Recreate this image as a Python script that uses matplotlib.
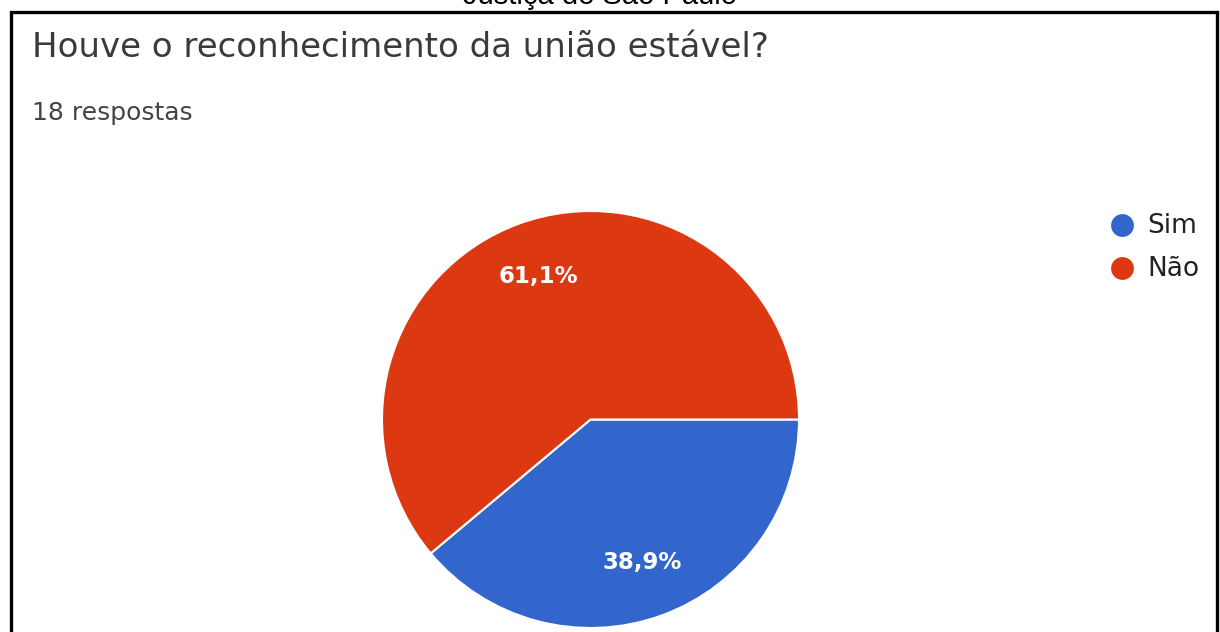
import matplotlib
matplotlib.use("Agg")
import matplotlib.pyplot as plt

categories = ["Sim", "Não"]
values = [38.9, 61.1]
colors = ["#3366cc", "#dc3912"]
title = "Houve o reconhecimento da união estável?"
subtitle = "18 respostas"
header = "Justiça de São Paulo"

W, H = 1220, 632
fig = plt.figure(figsize=(W / 100, H / 100), dpi=100)
fig.patch.set_facecolor("white")

# overlay axes in pixel coordinates (y downward)
bx = fig.add_axes([0, 0, 1, 1])
bx.set_xlim(0, W)
bx.set_ylim(H, 0)
bx.axis("off")
bx.plot([11, 11, 1217, 1217], [H + 5, 11.5, 11.5, H + 5], color="black", lw=2.4,
        solid_joinstyle="miter")

bx.text(600, 4, header, ha="center", va="baseline", fontsize=21,
        family="Liberation Sans", color="black")

bx.text(32, 57, title, ha="left", va="baseline", fontsize=24.5,
        family="DejaVu Sans", color="#3a3a3a")
bx.text(32, 120, subtitle, ha="left", va="baseline", fontsize=18,
        family="DejaVu Sans", color="#444444")

cx, cy, r = 590.5, 419.5, 208.5
ax = fig.add_axes([(cx - r) / W, (H - cy - r) / H, 2 * r / W, 2 * r / H])
wedges, texts, autotexts = ax.pie(
    values, colors=colors, startangle=0, counterclock=False,
    autopct=lambda p: f"{p:.1f}%".replace(".", ","), pctdistance=0.73,
    wedgeprops=dict(edgecolor="white", linewidth=1.5),
    textprops=dict(color="white", fontsize=16.5, family="DejaVu Sans",
                   fontweight="bold"),
    radius=1,
)
ax.set_xlim(-1, 1)
ax.set_ylim(-1, 1)
ax.set_aspect("auto")
ax.axis("off")

# legend
for i, (cat, col) in enumerate(zip(categories, colors)):
    y = 225 + i * 43
    bx.scatter([1121.5], [y], s=270, color=col, zorder=5, linewidths=0)
    bx.text(1147, y + 8, cat, ha="left", va="baseline", fontsize=19,
            family="DejaVu Sans", color="#222222")

fig.savefig("out.png", dpi=100, facecolor="white")
